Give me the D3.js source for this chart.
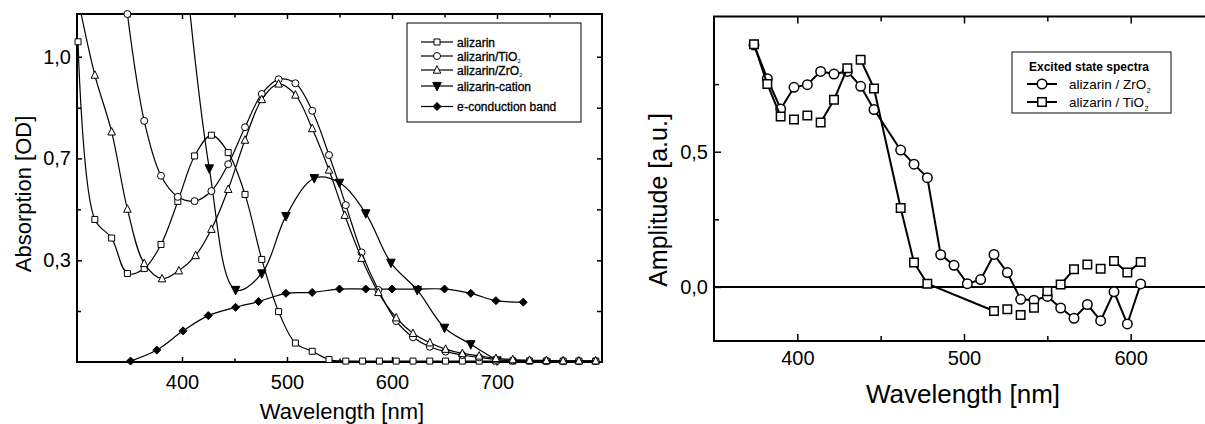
<!DOCTYPE html>
<html>
<head>
<meta charset="utf-8">
<script src="https://cdn.jsdelivr.net/npm/d3@7"></script>
<style>
  html, body { margin: 0; padding: 0; background: #fff; }
  svg { display: block; font-family: "Liberation Sans", Arial, sans-serif; }
</style>
</head>
<body>
<svg id="chart" width="1205" height="424"></svg>
<script>
// ---------- Ground-state absorption spectra (left panel) ----------
const alizarinNm = [301, 317, 333, 348, 364, 380, 396, 412, 428, 444, 460, 476, 492, 508, 524, 540,
                    556, 572, 588, 604, 620, 636, 651, 667, 683, 699, 715, 731, 747, 763, 778, 794];
const alizarinOD = [1.049, 0.467, 0.406, 0.290, 0.306, 0.385, 0.526, 0.675, 0.743, 0.686, 0.549, 0.336,
                    0.165, 0.062, 0.035, 0.008, 0.003, 0.003, 0.003, 0.003, 0.003, 0.003, 0.003, 0.003,
                    0.003, 0.003, 0.003, 0.003, 0.003, 0.003, 0.003, 0.003];

const tio2Nm = [348, 364, 380, 396, 412, 428, 444, 460, 476, 492, 508, 524, 540, 556, 571, 587,
                604, 620, 636, 651, 667, 683, 699, 715, 731, 747, 763, 778, 794];
const tio2OD = [1.14, 0.790, 0.610, 0.541, 0.527, 0.560, 0.648, 0.769, 0.878, 0.926, 0.913, 0.823,
                0.678, 0.514, 0.359, 0.236, 0.134, 0.081, 0.050, 0.034, 0.023, 0.015, 0.008, 0.005,
                0.004, 0.003, 0.003, 0.003, 0.003];

const zro2Nm = [301, 317, 333, 348, 364, 381, 397, 413, 428, 444, 460, 476, 492, 508, 524, 540,
                555, 571, 587, 604, 620, 636, 651, 667, 683, 699, 715, 731, 747, 763, 778, 794];
const zro2OD = [1.19, 0.940, 0.754, 0.501, 0.323, 0.273, 0.299, 0.349, 0.435, 0.566, 0.727, 0.860,
                0.911, 0.875, 0.765, 0.629, 0.481, 0.340, 0.228, 0.145, 0.094, 0.063, 0.042, 0.028,
                0.020, 0.012, 0.008, 0.006, 0.005, 0.004, 0.004, 0.004];

const cationNm = [401, 426, 451, 476, 499, 526, 550, 575, 599, 624, 650, 675, 700];
const cationOD = [1.37, 0.634, 0.236, 0.290, 0.478, 0.602, 0.587, 0.487, 0.325, 0.236, 0.112, 0.058, 0.005];

const bandNm = [351, 376, 401, 425, 451, 473, 499, 524, 550, 575, 600, 625, 650, 675, 699, 725];
const bandOD = [0.003, 0.039, 0.102, 0.152, 0.179, 0.198, 0.225, 0.228, 0.239, 0.239, 0.239, 0.239,
                0.239, 0.225, 0.201, 0.196];

const absTicks = [0.333, 0.667, 1.0];
const absTickLabels = ["0,3", "0,7", "1,0"];
const absMinorTicks = [0.167, 0.5, 0.833];
const absWlTicks = [400, 500, 600, 700];
const absWlMinor = [350, 450, 550, 650, 750];

// ---------- Excited-state spectra (right panel) ----------
const excZrNm = [374, 382, 390, 398, 406, 414, 422, 430, 438, 446, 462, 470, 478, 486, 494, 502,
                 510, 518, 526, 534, 542, 550, 558, 566, 574, 582, 590, 598, 606];
const excZrAmp = [0.895, 0.770, 0.658, 0.738, 0.748, 0.797, 0.787, 0.797, 0.742, 0.656, 0.506, 0.454,
                  0.404, 0.119, 0.080, 0.012, 0.027, 0.120, 0.053, -0.046, -0.049, -0.035, -0.078,
                  -0.116, -0.065, -0.125, -0.018, -0.137, 0.011];

const excTiNm = [374, 382, 390, 398, 406, 414, 422, 430, 438, 446, 462, 470, 478, 518, 526, 534,
                 542, 550, 558, 566, 574, 582, 590, 598, 606];
const excTiAmp = [0.897, 0.750, 0.630, 0.619, 0.634, 0.608, 0.692, 0.809, 0.840, 0.734, 0.292, 0.090,
                  0.012, -0.089, -0.083, -0.104, -0.077, -0.016, 0.009, 0.065, 0.083, 0.067, 0.096,
                  0.053, 0.092];
// wavelengths after which the TiO2 trace is not joined to the next point
const excTiBreaks = [390, 398, 406, 430, 518, 526, 534, 542, 550, 566, 574, 582];

const ampTicks = [0, 0.5];
const ampTickLabels = ["0,0", "0,5"];
const ampMinorTicks = [0.25, 0.75];
const excWlTicks = [400, 500, 600];
const excWlMinor = [450, 550];

// ---------- drawing ----------
const svg = d3.select("#chart");
svg.append("rect").attr("width", 1205).attr("height", 424).attr("fill", "#fff");

function zip(xs, ys) { return xs.map((x, i) => ({ x, y: ys[i] })); }

function markerPath(type, s) {
  const h = s / 2;
  switch (type) {
    case "square":  return `M${-h},${-h}H${h}V${h}H${-h}Z`;
    case "tri":     return `M0,${-h * 1.15}L${h},${h * 0.85}L${-h},${h * 0.85}Z`;
    case "down":    return `M0,${h * 1.15}L${h},${-h * 0.85}L${-h},${-h * 0.85}Z`;
    case "diamond": return `M0,${-h}L${h},0L0,${h}L${-h},0Z`;
  }
  return "";
}

function drawMarker(g, type, cx, cy, size, fill, sw) {
  if (type === "circle") {
    g.append("circle").attr("cx", cx).attr("cy", cy).attr("r", size / 2)
      .attr("fill", fill).attr("stroke", "#000").attr("stroke-width", sw);
  } else {
    g.append("path").attr("d", markerPath(type, size))
      .attr("transform", `translate(${cx},${cy})`)
      .attr("fill", fill).attr("stroke", "#000").attr("stroke-width", sw);
  }
}

function styleAxis(g, fontSize) {
  g.select(".domain").remove();
  g.selectAll(".tick line").attr("stroke", "#000").attr("stroke-width", 1.5);
  g.selectAll(".tick text").attr("font-size", fontSize)
    .attr("font-family", "'Liberation Sans', Arial, sans-serif").attr("fill", "#000");
}

// ===== Left panel =====
const L = { x0: 77, x1: 602, y0: 14, y1: 362 };
const xL = d3.scaleLinear().domain([300, 800]).range([L.x0, L.x1]);
const yL = d3.scaleLinear().domain([0, 1.14]).range([L.y1, L.y0]);

const left = svg.append("g");
left.append("clipPath").attr("id", "clipL").append("rect")
  .attr("x", L.x0).attr("y", L.y0).attr("width", L.x1 - L.x0).attr("height", L.y1 - L.y0);

// axes (ticks point into the plot)
left.append("g").attr("transform", `translate(0,${L.y1})`)
  .call(d3.axisBottom(xL).tickValues(absWlTicks).tickSize(-5).tickSizeOuter(0).tickPadding(13).tickFormat(d3.format("d")))
  .call(g => styleAxis(g, 20));
left.append("g").attr("transform", `translate(0,${L.y1})`)
  .call(d3.axisBottom(xL).tickValues(absWlMinor).tickSize(-3.5).tickSizeOuter(0).tickFormat(""))
  .call(g => styleAxis(g, 20));
left.append("g").attr("transform", `translate(0,${L.y0})`)
  .call(d3.axisTop(xL).tickValues(absWlTicks).tickSize(-5).tickSizeOuter(0).tickFormat(""))
  .call(g => styleAxis(g, 20));
left.append("g").attr("transform", `translate(0,${L.y0})`)
  .call(d3.axisTop(xL).tickValues(absWlMinor).tickSize(-3.5).tickSizeOuter(0).tickFormat(""))
  .call(g => styleAxis(g, 20));
left.append("g").attr("transform", `translate(${L.x0},0)`)
  .call(d3.axisLeft(yL).tickValues(absTicks).tickSize(-5).tickSizeOuter(0).tickPadding(6)
    .tickFormat((d, i) => absTickLabels[i]))
  .call(g => styleAxis(g, 20));
left.append("g").attr("transform", `translate(${L.x0},0)`)
  .call(d3.axisLeft(yL).tickValues(absMinorTicks).tickSize(-4).tickSizeOuter(0).tickFormat(""))
  .call(g => styleAxis(g, 20));
left.append("g").attr("transform", `translate(${L.x1},0)`)
  .call(d3.axisRight(yL).tickValues(absTicks.concat(absMinorTicks)).tickSize(-5).tickSizeOuter(0).tickFormat(""))
  .call(g => styleAxis(g, 20));

left.append("rect").attr("x", L.x0).attr("y", L.y0)
  .attr("width", L.x1 - L.x0).attr("height", L.y1 - L.y0)
  .attr("fill", "none").attr("stroke", "#000").attr("stroke-width", 2);

const smoothLine = d3.line().x(d => xL(d.x)).y(d => yL(d.y)).curve(d3.curveCatmullRom.alpha(0.5));

const absSeries = [
  { nm: bandNm, od: bandOD, marker: "diamond", fill: "#000", size: 8 },
  { nm: cationNm, od: cationOD, marker: "down", fill: "#000", size: 8.5 },
  { nm: alizarinNm, od: alizarinOD, marker: "square", fill: "#fff", size: 6 },
  { nm: tio2Nm, od: tio2OD, marker: "circle", fill: "#fff", size: 7 },
  { nm: zro2Nm, od: zro2OD, marker: "tri", fill: "#fff", size: 7.5 }
];

absSeries.forEach(s => {
  const pts = zip(s.nm, s.od);
  left.append("path").datum(pts).attr("d", smoothLine)
    .attr("fill", "none").attr("stroke", "#000").attr("stroke-width", 1.2)
    .attr("clip-path", "url(#clipL)");
  const mg = left.append("g");
  pts.filter(p => p.y <= 1.145).forEach(p =>
    drawMarker(mg, s.marker, xL(p.x), yL(p.y), s.size, s.fill, 1));
});

// axis titles
left.append("text").attr("x", 342).attr("y", 419).attr("text-anchor", "middle")
  .attr("font-size", 22).text("Wavelength [nm]");
left.append("text").attr("transform", "translate(31,194) rotate(-90)").attr("text-anchor", "middle")
  .attr("font-size", 22).text("Absorption [OD]");

// legend
const lg = left.append("g");
lg.append("rect").attr("x", 407).attr("y", 23).attr("width", 174).attr("height", 99)
  .attr("fill", "#fff").attr("stroke", "#000").attr("stroke-width", 1);
const legRows = [
  { y: 42,  marker: "square", fill: "#fff", size: 6 },
  { y: 56,  marker: "circle", fill: "#fff", size: 7 },
  { y: 70, marker: "tri", fill: "#fff", size: 7.5 },
  { y: 86,  marker: "down", fill: "#000", size: 8.5 },
  { y: 106.5, marker: "diamond", fill: "#000", size: 8 }
];
legRows.forEach(r => {
  lg.append("line").attr("x1", 421).attr("x2", 453).attr("y1", r.y).attr("y2", r.y)
    .attr("stroke", "#000").attr("stroke-width", 1.2);
  drawMarker(lg, r.marker, 437, r.y, r.size, r.fill, 1);
});
const lt = (y) => lg.append("text").attr("x", 457).attr("y", y + 4.5).attr("font-size", 12)
  .attr("stroke", "#000").attr("stroke-width", 0.3);
lt(42).text("alizarin");
{
  const t = lt(56); t.append("tspan").text("alizarin/TiO");
  t.append("tspan").attr("font-size", 5.5).attr("stroke-width", 0).attr("dx", 0.3).attr("dy", 2).text("2");
}
{
  const t = lt(70); t.append("tspan").text("alizarin/ZrO");
  t.append("tspan").attr("font-size", 5.5).attr("stroke-width", 0).attr("dx", 0.3).attr("dy", 2).text("2");
}
lt(86).text("alizarin-cation");
{
  const t = lt(106.5); t.append("tspan").text("e");
  t.append("tspan").attr("font-size", 6).attr("stroke-width", 0).attr("dx", -1).attr("dy", -5).text("-");
  t.append("tspan").attr("dy", 5).attr("dx", -0.5).text("-conduction band");
}

// ===== Right panel =====
const R = { x0: 714, x1: 1214, y0: 16.5, y1: 341 };
const xR = d3.scaleLinear().domain([350, 650]).range([R.x0, R.x1]);
const yR = d3.scaleLinear().domain([-0.2, 1.0]).range([R.y1, R.y0]);

const right = svg.append("g");
right.append("clipPath").attr("id", "clipR").append("rect")
  .attr("x", R.x0).attr("y", R.y0).attr("width", R.x1 - R.x0).attr("height", R.y1 - R.y0);

right.append("g").attr("transform", `translate(0,${R.y1})`)
  .call(d3.axisBottom(xR).tickValues(excWlTicks).tickSize(-7).tickSizeOuter(0).tickPadding(10).tickFormat(d3.format("d")))
  .call(g => styleAxis(g, 20));
right.append("g").attr("transform", `translate(0,${R.y1})`)
  .call(d3.axisBottom(xR).tickValues(excWlMinor).tickSize(-5).tickSizeOuter(0).tickFormat(""))
  .call(g => styleAxis(g, 20));
right.append("g").attr("transform", `translate(0,${R.y0})`)
  .call(d3.axisTop(xR).tickValues(excWlTicks).tickSize(-7).tickSizeOuter(0).tickFormat(""))
  .call(g => styleAxis(g, 20));
right.append("g").attr("transform", `translate(0,${R.y0})`)
  .call(d3.axisTop(xR).tickValues(excWlMinor).tickSize(-5).tickSizeOuter(0).tickFormat(""))
  .call(g => styleAxis(g, 20));
right.append("g").attr("transform", `translate(${R.x0},0)`)
  .call(d3.axisLeft(yR).tickValues(ampTicks).tickSize(-7).tickSizeOuter(0).tickPadding(6)
    .tickFormat((d, i) => ampTickLabels[i]))
  .call(g => styleAxis(g, 20));
right.append("g").attr("transform", `translate(${R.x0},0)`)
  .call(d3.axisLeft(yR).tickValues(ampMinorTicks).tickSize(-5).tickSizeOuter(0).tickFormat(""))
  .call(g => styleAxis(g, 20));

right.append("rect").attr("x", R.x0).attr("y", R.y0)
  .attr("width", R.x1 - R.x0).attr("height", R.y1 - R.y0)
  .attr("fill", "none").attr("stroke", "#000").attr("stroke-width", 2);

// zero line
right.append("line").attr("x1", R.x0).attr("x2", R.x1).attr("y1", yR(0)).attr("y2", yR(0))
  .attr("stroke", "#000").attr("stroke-width", 2);

const straight = d3.line().x(d => xR(d.x)).y(d => yR(d.y));

// alizarin / ZrO2
const zrPts = zip(excZrNm, excZrAmp);
right.append("path").datum(zrPts).attr("d", straight).attr("fill", "none")
  .attr("stroke", "#000").attr("stroke-width", 2).attr("clip-path", "url(#clipR)");
const zrG = right.append("g");
zrPts.forEach(p => drawMarker(zrG, "circle", xR(p.x), yR(p.y), 9.5, "#fff", 1.5));

// alizarin / TiO2 (trace split into joined runs)
const tiPts = zip(excTiNm, excTiAmp);
const tiRuns = [];
let run = [];
tiPts.forEach(p => {
  run.push(p);
  if (excTiBreaks.includes(p.x)) { tiRuns.push(run); run = []; }
});
if (run.length) tiRuns.push(run);
tiRuns.filter(r => r.length > 1).forEach(r =>
  right.append("path").datum(r).attr("d", straight).attr("fill", "none")
    .attr("stroke", "#000").attr("stroke-width", 2).attr("clip-path", "url(#clipR)"));
const tiG = right.append("g");
tiPts.forEach(p => drawMarker(tiG, "square", xR(p.x), yR(p.y), 8.5, "#fff", 1.5));

// axis titles
right.append("text").attr("x", 963).attr("y", 403).attr("text-anchor", "middle")
  .attr("font-size", 26).text("Wavelength [nm]");
right.append("text").attr("transform", "translate(667,200) rotate(-90)").attr("text-anchor", "middle")
  .attr("font-size", 25).text("Amplitude [a.u.]");

// legend
const rg = right.append("g");
rg.append("rect").attr("x", 1012).attr("y", 52).attr("width", 159).attr("height", 61)
  .attr("fill", "#fff").attr("stroke", "#333").attr("stroke-width", 1.2);
rg.append("text").attr("x", 1089).attr("y", 71).attr("text-anchor", "middle")
  .attr("font-size", 12).attr("font-weight", "bold").text("Excited state spectra");
[{ y: 84, marker: "circle", size: 9.5, label: "alizarin / ZrO" },
 { y: 102, marker: "square", size: 8.5, label: "alizarin / TiO" }].forEach(r => {
  rg.append("line").attr("x1", 1027).attr("x2", 1057).attr("y1", r.y).attr("y2", r.y)
    .attr("stroke", "#000").attr("stroke-width", 2);
  drawMarker(rg, r.marker, 1042, r.y, r.size, "#fff", 1.5);
  const t = rg.append("text").attr("x", 1069).attr("y", r.y + 5).attr("font-size", 13.5);
  t.append("tspan").text(r.label);
  t.append("tspan").attr("font-size", 7).attr("dx", 0.5).attr("dy", 4).text("2");
});
</script>
</body>
</html>
